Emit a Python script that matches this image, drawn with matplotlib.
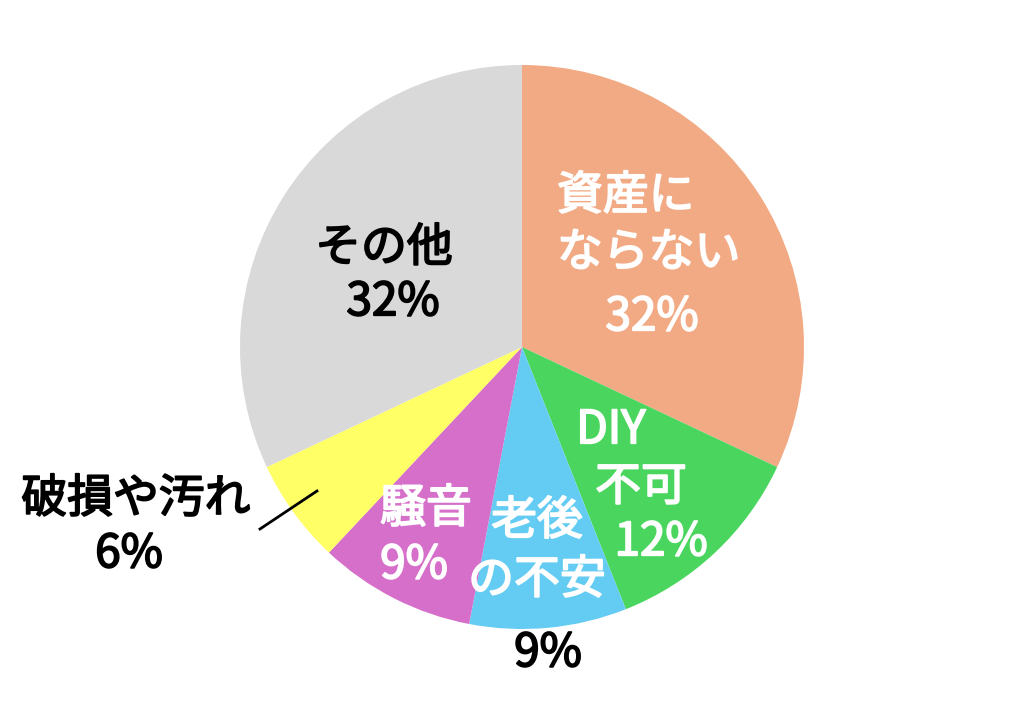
import matplotlib
matplotlib.use("Agg")
import matplotlib.pyplot as plt
import matplotlib.patheffects as pe

plt.rcParams['font.family'] = ['Noto Sans CJK JP', 'DejaVu Sans']

# slices, clockwise from 12 o'clock
labels = ["資産に\nならない", "DIY\n不可", "老後\nの不安", "騒音", "破損や汚れ", "その他"]
values = [32, 12, 9, 9, 6, 32]
colors = ["#F2AA84", "#4AD65E", "#64CCF2", "#D56FC9", "#FFFF66", "#D9D9D9"]

W, H = 1024, 702
cx, cy, r = 522, 347, 282

fig = plt.figure(figsize=(W / 100, H / 100), dpi=100)
ax = fig.add_axes([(cx - r) / W, (H - cy - r) / H, 2 * r / W, 2 * r / H])
ax.pie(values, colors=colors, startangle=90, counterclock=False, radius=1)
ax.set_xlim(-1, 1)
ax.set_ylim(-1, 1)
ax.axis("off")


def px(x, y):
    # pixel position in the picture -> pie data coords
    return (x - cx) / r, (cy - y) / r


def label(x, y, s, color="white", ha="center"):
    # regular weight thickened a bit, the reference looks like a medium weight
    ax.text(*px(x, y), s, ha=ha, va="center", fontsize=33, color=color,
            clip_on=False,
            path_effects=[pe.withStroke(linewidth=1.3, foreground=color)])


l0 = labels[0].split("\n")
label(557, 196, l0[0], ha="left")
label(557, 253, l0[1], ha="left")
label(652, 317, f"{values[0]}%")

l1 = labels[1].split("\n")
label(611, 430, l1[0])
label(641, 487, l1[1])
label(661, 542, f"{values[1]}%")

l2 = labels[2].split("\n")
label(537, 521, l2[0])
label(537, 580, l2[1])
label(548, 653, f"{values[2]}%", color="black")

label(426, 509, labels[3])
label(414, 565, f"{values[3]}%")

label(136, 499, labels[4], color="black")
label(129, 554, f"{values[4]}%", color="black")

label(384, 248, labels[5], color="black")
label(393, 302, f"{values[5]}%", color="black")

x0, y0 = px(260, 529)
x1, y1 = px(317, 491)
ax.plot([x0, x1], [y0, y1], color="black", lw=2, clip_on=False)

fig.savefig("out.png", dpi=100)
